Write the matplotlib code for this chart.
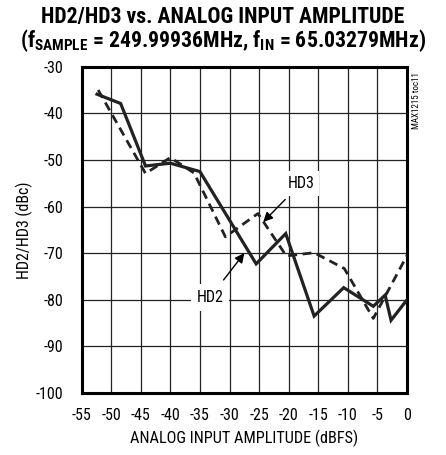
import matplotlib
matplotlib.use("Agg")
import matplotlib.pyplot as plt

FONT = ['Roboto Condensed', 'Archivo Narrow', 'DejaVu Sans']
plt.rcParams['font.family'] = FONT
plt.rcParams['mathtext.fontset'] = 'custom'
plt.rcParams['mathtext.bf'] = 'Roboto Condensed:bold'
plt.rcParams['mathtext.rm'] = 'Roboto Condensed:bold'
plt.rcParams['mathtext.it'] = 'Roboto Condensed:bold'

# Data
hd2_x = [-52.4, -48.4, -44.2, -40.0, -35.0, -25.5, -20.5, -15.7, -10.7, -5.7, -3.7, -2.7, 0.0]
hd2_y = [-35.9, -37.9, -51.3, -50.7, -52.5, -72.3, -65.8, -83.5, -77.4, -81.4, -79.0, -84.4, -80.0]
hd3_x = [-52.2, -44.2, -40.0, -36.0, -30.7, -25.2, -20.4, -15.7, -10.6, -5.7, 0.0]
hd3_y = [-35.0, -52.9, -49.5, -52.8, -66.5, -61.5, -70.6, -69.9, -73.3, -84.0, -70.5]
xticks = [-55, -50, -45, -40, -35, -30, -25, -20, -15, -10, -5, 0]
yticks = [-30, -40, -50, -60, -70, -80, -90, -100]

fig = plt.figure(figsize=(4.46, 4.55), dpi=100)
ax = fig.add_axes([0.183, 0.1363, 0.7296, 0.7171])

ax.set_xlim(-55, 0)
ax.set_ylim(-100, -30)
ax.set_xticks(xticks)
ax.set_yticks(yticks)
ax.set_xticklabels([str(v) for v in xticks], fontsize=11.5)
ax.set_yticklabels([str(v) for v in yticks], fontsize=11.5)
ax.tick_params(axis='x', length=0, pad=10.5)
ax.tick_params(axis='y', length=0, pad=13)
ax.grid(True, color='#222222', lw=0.9)
ax.set_axisbelow(True)
for s in ax.spines.values():
    s.set_linewidth(2.2)
    s.set_color('black')

ax.plot(hd2_x, hd2_y, color='#222222', lw=2.3, solid_joinstyle='miter', zorder=3)
ax.plot(hd3_x, hd3_y, color='#222222', lw=2.0, dashes=(3.2, 2.0), zorder=3)

ax.annotate('HD3', xy=(-24.3, -63.3), xytext=(-17.9, -55),
            fontsize=11.5, ha='center', va='center',
            bbox=dict(boxstyle='square,pad=0.3', fc='white', ec='none'),
            arrowprops=dict(arrowstyle='-|>', color='black', lw=1.0,
                            mutation_scale=14, shrinkA=4, shrinkB=0), zorder=4)
ax.annotate('HD2', xy=(-27.5, -70.0), xytext=(-33.3, -79.5),
            fontsize=11.5, ha='center', va='center',
            bbox=dict(boxstyle='square,pad=0.35', fc='white', ec='none'),
            arrowprops=dict(arrowstyle='-|>', color='black', lw=1.0,
                            mutation_scale=14, shrinkA=4, shrinkB=0), zorder=4)

ax.set_xlabel('ANALOG INPUT AMPLITUDE (dBFS)', fontsize=11.7, labelpad=5)
ax.set_ylabel('HD2/HD3 (dBc)', fontsize=11.5, labelpad=2)

fig.text(0.5, 0.963, 'HD2/HD3 vs. ANALOG INPUT AMPLITUDE', ha='center', va='center',
         fontsize=15.7, fontweight='bold')
fig.text(0.5, 0.911, r'(f$_{\mathbf{SAMPLE}}$ = 249.99936MHz, f$_{\mathbf{IN}}$ = 65.03279MHz)',
         ha='center', va='center', fontsize=15.7, fontweight='bold')
fig.text(0.933, 0.778, 'MAX1215 toc11', rotation=90, ha='center', va='center', fontsize=6.5)

fig.savefig('out.png', dpi=100)
